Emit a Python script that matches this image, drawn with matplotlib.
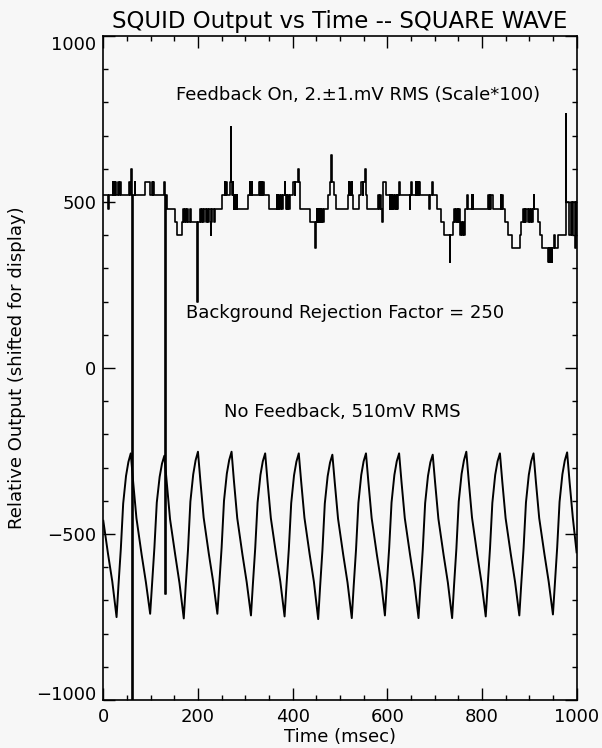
import matplotlib
matplotlib.use('Agg')
import matplotlib.pyplot as plt
import matplotlib.transforms as mtransforms
from matplotlib.ticker import MultipleLocator

# feedback on: (time ms, output) steps
feedback_on = [
    (0, 520), (10, 480), (11.5, 520),
    (20, 560), (21, 520), (22, 560), (24, 520), (25, 560), (27, 520),
    (32, 560), (33, 520), (34.5, 560), (37, 520),
    (55, 560), (56, 520), (58, 560), (59.3, 600), (59.8, -1300), (62.6, 520),
    (67, 560), (68, 520),
    (88, 560), (99, 520), (103, 560), (104, 520), (106, 560), (108, 520),
    (128, 560), (129.5, -680), (131.5, 520), (132, 480), (133, 520), (134, 480),
    (151, 440), (156, 400), (167, 440), (169, 480), (171, 440), (173, 480),
    (175, 440), (177, 480), (180, 440), (183, 480), (186, 440),
    (198.5, 200), (199.5, 440),
    (204, 480), (206, 440), (208, 480), (211, 440), (213, 480), (216, 440),
    (219, 480), (222, 440), (224, 480), (227, 400), (228, 440), (230, 480),
    (233, 440), (235, 480),
    (250, 520), (257, 560), (258, 520), (259, 560), (260.5, 520),
    (267, 560), (269, 725), (270, 560), (272, 520), (273, 560), (274, 520),
    (276, 480), (277, 520), (278, 480), (279.5, 520), (281, 480), (282, 520), (283, 480),
    (306, 520), (309.5, 560), (310.5, 520), (314, 560), (315, 520), (330, 560),
    (331, 520), (332, 560), (333.5, 520), (335, 560), (336, 520), (338, 560), (339, 520),
    (350, 480), (366, 520), (367, 480), (369, 520), (370, 480), (372, 520),
    (374, 480), (376, 520), (378, 480), (380, 520), (383, 560), (384, 520),
    (386, 480), (387.5, 520), (389, 480), (391, 520), (393, 480), (395, 520),
    (401, 560), (404, 520), (405, 560), (412, 600), (413, 560), (415, 520), (416, 480),
    (436.5, 440), (448, 360), (449, 440), (450.5, 480), (452, 440), (453, 480),
    (455, 440), (456, 480), (458, 440), (459.5, 480), (461, 440), (463, 480),
    (465, 440), (466, 480),
    (475, 520), (478.5, 560), (482, 640), (483, 560), (487, 520), (491, 480),
    (517, 520), (519, 560), (520, 520), (521.5, 560), (523, 520), (525, 560),
    (526, 520), (527, 480),
    (541, 520), (545.5, 560), (548, 520), (549.5, 560), (553.5, 600), (554.5, 560),
    (556, 520), (557, 480),
    (581, 520), (582.5, 480), (584, 520), (586, 480), (589.5, 440), (590.5, 520),
    (591.5, 560), (598, 520),
    (605, 480), (606.5, 520), (608, 480), (609, 520), (611, 480), (613, 520),
    (614, 480), (616, 520), (618, 480), (620, 520), (621, 480), (623, 520),
    (625, 560), (627, 520),
    (647, 480), (648.5, 520), (650, 560), (652, 520),
    (660, 560), (661, 520), (662, 560), (664, 520), (665.5, 560), (667, 520),
    (668, 560), (670, 520),
    (688, 480), (690, 520), (695, 560), (697, 520), (704, 480),
    (714.5, 440), (719.5, 400), (732, 320), (733, 400),
    (739.5, 440), (742, 480), (744, 440), (745.5, 480), (747, 440), (749, 480),
    (750, 440), (752, 480), (754, 400), (756, 440), (758, 400), (760, 440),
    (762, 400), (764, 480),
    (769, 520), (771, 480), (778, 520), (779.5, 480), (781, 520), (782, 480),
    (813, 520), (815, 480), (816, 520), (818, 480), (820, 520), (822.5, 480),
    (839.5, 520), (841, 480), (843, 520), (844, 480),
    (848.5, 440), (855.5, 400), (862.5, 360), (880, 400), (883.5, 440), (887, 480),
    (888.5, 440), (890, 480), (891.5, 440), (894, 480),
    (897.5, 440), (899, 480), (901, 440), (903, 480), (905, 440), (907, 480),
    (909.5, 520), (911, 480),
    (919, 440), (922.5, 400), (926, 360),
    (940, 320), (941, 360), (942, 320), (943.5, 360), (944.5, 320), (946, 360),
    (947, 320), (949, 360),
    (952, 400), (953.5, 360), (961, 400), (977, 765), (978, 500), (983, 440),
    (984, 400), (988, 500), (991, 400), (993, 500), (996, 360), (998, 500),
    (999, 400), (1000, 400),
]

# no feedback: (time ms, output), sampled by eye along the wave
no_feedback = [
    (0, -460), (10, -560), (19, -643),
    (28, -750), (32, -655), (37, -545), (42, -408), (48, -325), (53, -283), (58, -257),
    (63, -342), (70, -452), (81, -562), (90, -645),
    (99, -740), (103, -650), (108, -540), (113, -405), (119, -328), (124, -288), (129, -264),
    (134, -345), (141, -455), (152, -563), (161, -648),
    (170, -754), (174, -658), (179, -546), (184, -402), (190, -320), (195, -278), (200, -252),
    (205, -338), (212, -450), (223, -560), (232, -642),
    (241, -740), (245, -650), (250, -540), (255, -400), (261, -318), (266, -277), (271, -252),
    (276, -340), (283, -452), (294, -562), (303, -645),
    (312, -745), (316, -652), (321, -542), (326, -405), (332, -322), (337, -281), (342, -257),
    (347, -342), (354, -452), (365, -560), (374, -643),
    (383, -748), (387, -655), (392, -545), (397, -407), (403, -323), (408, -282), (413, -257),
    (418, -341), (425, -451), (436, -561), (445, -644),
    (454, -756), (458, -660), (463, -548), (468, -408), (474, -326), (479, -285), (484, -261),
    (489, -344), (496, -454), (507, -563), (516, -646),
    (525, -753), (529, -657), (534, -546), (539, -406), (545, -322), (550, -281), (555, -257),
    (560, -342), (567, -452), (578, -562), (587, -645),
    (595, -745), (599, -652), (604, -542), (609, -405), (615, -322), (620, -281), (625, -257),
    (630, -342), (637, -452), (648, -561), (657, -645),
    (666, -753), (670, -657), (675, -546), (680, -407), (686, -325), (691, -284), (696, -261),
    (701, -344), (708, -454), (719, -563), (728, -646),
    (737, -753), (741, -656), (746, -544), (751, -402), (757, -319), (762, -278), (767, -252),
    (772, -338), (779, -450), (790, -561), (799, -645),
    (808, -748), (812, -655), (817, -544), (822, -406), (828, -322), (833, -281), (838, -257),
    (843, -342), (850, -452), (861, -561), (870, -644),
    (879, -745), (883, -652), (888, -542), (893, -405), (899, -322), (904, -281), (909, -257),
    (914, -342), (921, -452), (932, -560), (941, -643),
    (950, -742), (954, -650), (959, -540), (964, -403), (970, -320), (975, -279), (980, -254),
    (985, -340), (992, -450), (1000, -555),
]

x_ticks = [0, 200, 400, 600, 800, 1000]
y_ticks = [-1000, -500, 0, 500, 1000]

bg = '#f7f7f7'
fig = plt.figure(figsize=(6.02, 7.48), dpi=100, facecolor=bg)
ax = fig.add_axes([0.1716, 0.064, 0.7862, 0.888])
ax.set_facecolor(bg)

fb_t = [p[0] for p in feedback_on]
fb_v = [p[1] for p in feedback_on]
nf_t = [p[0] for p in no_feedback]
nf_v = [p[1] for p in no_feedback]

ax.plot(nf_t, nf_v, color='black', lw=1.4)
ax.plot(fb_t, fb_v, color='black', lw=1.2, drawstyle='steps-post')

ax.set_xlim(0, 1000)
ax.set_ylim(-1000, 1000)
ax.set_xticks(x_ticks)
ax.set_yticks(y_ticks)
ax.xaxis.set_minor_locator(MultipleLocator(50))
ax.yaxis.set_minor_locator(MultipleLocator(100))
ax.tick_params(which='both', direction='in', top=True, right=True, width=1)
ax.tick_params(which='major', length=8.5, labelsize=13)
ax.tick_params(which='minor', length=3.6)
ax.tick_params(axis='x', pad=6)
ax.tick_params(axis='y', pad=5)
for s in ax.spines.values():
    s.set_linewidth(1.2)

# end labels sit a little inside the axis range, as in the original
ylabs = ax.get_yticklabels()
ylabs[0].set_transform(ylabs[0].get_transform() + mtransforms.ScaledTranslation(0, 5 / 72, fig.dpi_scale_trans))
ylabs[-1].set_transform(ylabs[-1].get_transform() + mtransforms.ScaledTranslation(0, -5 / 72, fig.dpi_scale_trans))

ax.set_title('SQUID Output vs Time -- SQUARE WAVE', fontsize=16.5, pad=6)
ax.set_xlabel('Time (msec)', fontsize=13, labelpad=1)
ax.set_ylabel('Relative Output (shifted for display)', fontsize=13, labelpad=7)

ax.text(538, 821, 'Feedback On, 2.\u00b11.mV RMS (Scale*100)', ha='center', va='center', fontsize=13)
ax.text(510, 167, 'Background Rejection Factor = 250', ha='center', va='center', fontsize=13)
ax.text(504, -132, 'No Feedback, 510mV RMS', ha='center', va='center', fontsize=13)

fig.savefig('out.png', dpi=100, facecolor=bg)
